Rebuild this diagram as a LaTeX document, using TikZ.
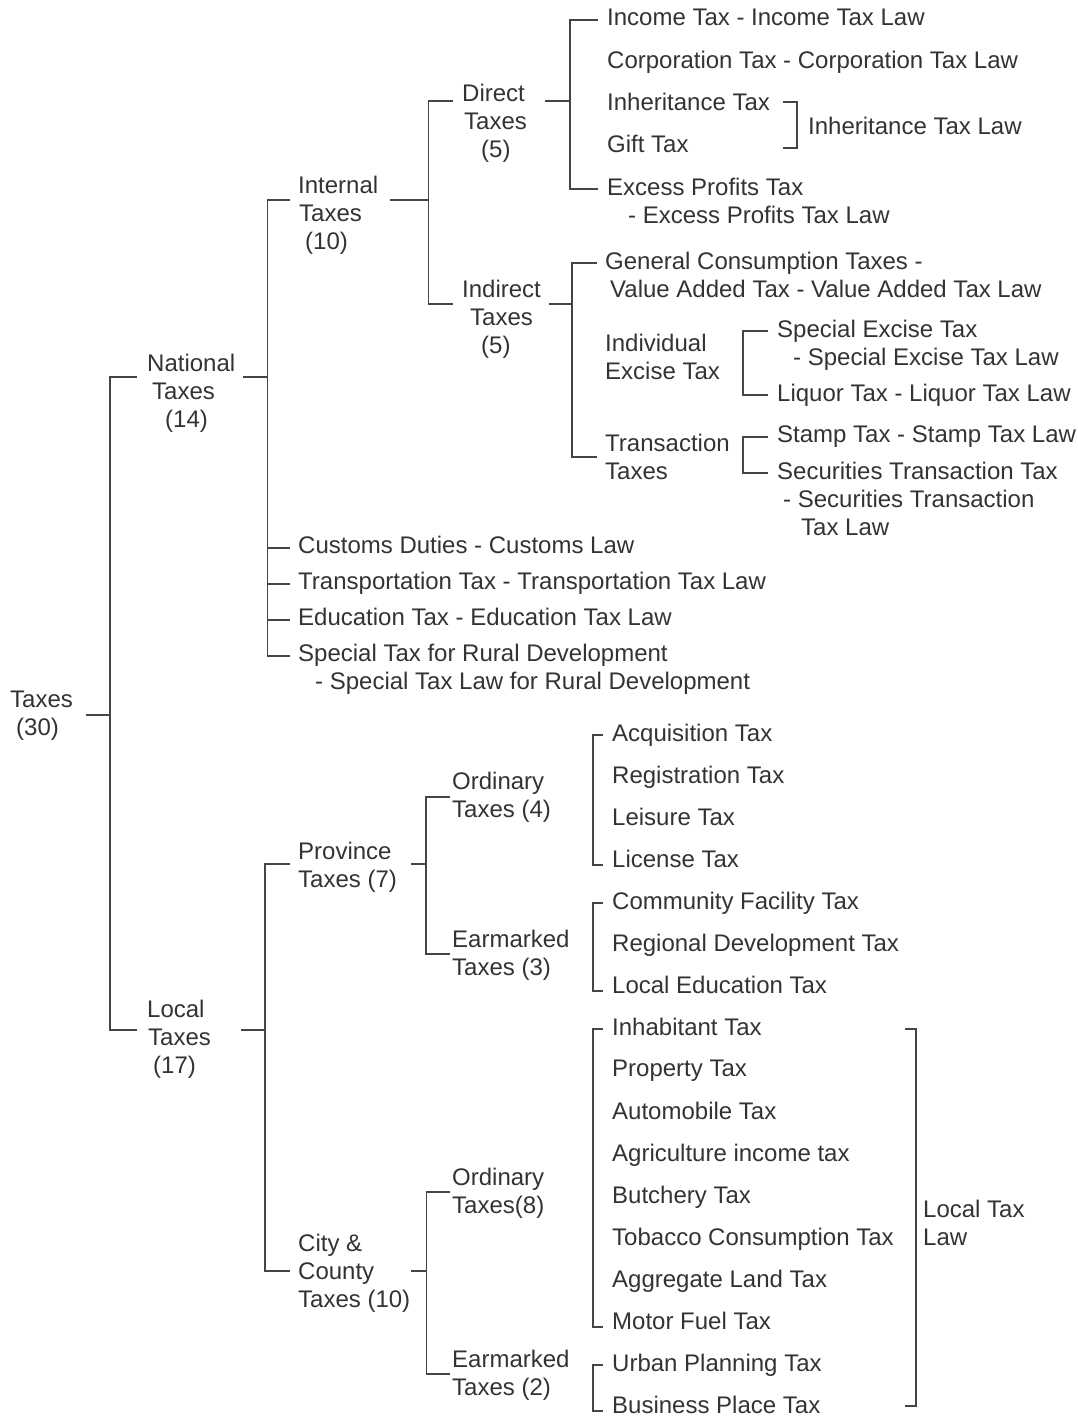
\documentclass[tikz,border=0pt]{standalone}
\usepackage{fontspec}
\setmainfont{Liberation Sans}
\usepackage{xcolor}
\definecolor{ink}{HTML}{333333}
\definecolor{wire}{HTML}{454545}
\tikzset{
    tax-label/.style = {anchor=north west, inner sep=0pt, align=left, text=ink, font=\fontsize{24}{28}\selectfont},
    tax-line/.style = {draw=wire, line width=1.6pt},
}

\begin{document}
\begin{tikzpicture}[x=1pt, y=-1pt]
\useasboundingbox (0,0) rectangle (1078,1419);

% root and national taxes
\node[tax-label] (taxes) at (10,691) {Taxes\\\hspace*{6pt}(30)};
\node[tax-label] (nat) at (147,354) {National\\\hspace*{5pt}Taxes\\\hspace*{18pt}(14)};
\node[tax-label] (int) at (298,176) {Internal\\\hspace*{1pt}Taxes\\\hspace*{7pt}(10)};
\node[tax-label] (dir) at (462,84) {Direct\\\hspace*{2pt}Taxes\\\hspace*{19pt}(5)};
\node[tax-label] (ind) at (462,280) {Indirect\\\hspace*{8pt}Taxes\\\hspace*{19pt}(5)};

\node[tax-label] (inc) at (607,9) {Income Tax - Income Tax Law};
\node[tax-label] (corp) at (607,51) {Corporation Tax - Corporation Tax Law};
\node[tax-label] (inh) at (607,93) {Inheritance Tax};
\node[tax-label] (gift) at (607,135) {Gift Tax};
\node[tax-label] (inhlaw) at (808,117) {Inheritance Tax Law};
\node[tax-label] (exc) at (607,178) {Excess Profits Tax\\\hspace*{21pt}- Excess Profits Tax Law};

\node[tax-label] (gen) at (605,252) {General Consumption Taxes -\\\hspace*{5pt}Value Added Tax - Value Added Tax Law};
\node[tax-label] (indv) at (605,334) {Individual\\Excise Tax};
\node[tax-label] (spe) at (777,320) {Special Excise Tax\\\hspace*{16pt}- Special Excise Tax Law};
\node[tax-label] (liq) at (777,384) {Liquor Tax - Liquor Tax Law};
\node[tax-label] (tra) at (605,434) {Transaction\\Taxes};
\node[tax-label] (sta) at (777,426) {Stamp Tax - Stamp Tax Law};
\node[tax-label] (sec) at (777,462) {Securities Transaction Tax\\\hspace*{6pt}- Securities Transaction\\\hspace*{24pt}Tax Law};

\node[tax-label] (cus) at (298,536) {Customs Duties - Customs Law};
\node[tax-label] (tsp) at (298,572) {Transportation Tax - Transportation Tax Law};
\node[tax-label] (edu) at (298,608) {Education Tax - Education Tax Law};
\node[tax-label] (srd) at (298,644) {Special Tax for Rural Development\\\hspace*{17pt}- Special Tax Law for Rural Development};

% local taxes
\node[tax-label] (loc) at (147,1000) {Local\\\hspace*{1pt}Taxes\\\hspace*{6pt}(17)};
\node[tax-label] (pro) at (298,842) {Province\\Taxes (7)};
\node[tax-label] (cty) at (298,1234) {City \&\\County\\Taxes (10)};

\node[tax-label] (ord1) at (452,772) {Ordinary\\Taxes (4)};
\node[tax-label] (ear1) at (452,930) {Earmarked\\Taxes (3)};
\node[tax-label] (acq) at (612,724) {Acquisition Tax};
\node[tax-label] (reg) at (612,766) {Registration Tax};
\node[tax-label] (lei) at (612,808) {Leisure Tax};
\node[tax-label] (lic) at (612,850) {License Tax};
\node[tax-label] (com) at (612,892) {Community Facility Tax};
\node[tax-label] (rgd) at (612,934) {Regional Development Tax};
\node[tax-label] (led) at (612,976) {Local Education Tax};

\node[tax-label] (ord2) at (452,1168) {Ordinary\\Taxes(8)};
\node[tax-label] (ear2) at (452,1350) {Earmarked\\Taxes (2)};
\node[tax-label] (inh8) at (612,1018) {Inhabitant Tax};
\node[tax-label] (prp) at (612,1060) {Property Tax};
\node[tax-label] (aut) at (612,1102) {Automobile Tax};
\node[tax-label] (agr) at (612,1144) {Agriculture income tax};
\node[tax-label] (but) at (612,1186) {Butchery Tax};
\node[tax-label] (tob) at (612,1228) {Tobacco Consumption Tax};
\node[tax-label] (agg) at (612,1270) {Aggregate Land Tax};
\node[tax-label] (mot) at (612,1312) {Motor Fuel Tax};
\node[tax-label] (urb) at (612,1354) {Urban Planning Tax};
\node[tax-label] (bus) at (612,1396) {Business Place Tax};
\node[tax-label] (ltl) at (923,1200) {Local Tax\\Law};

% brackets
\draw[tax-line] ([xshift=13pt,yshift=-24pt]taxes.north east) -- ++(24,0) coordinate (s-taxes)
    (s-taxes) |- ([xshift=-10pt,yshift=-23pt]nat.north west)
    (s-taxes) |- ([xshift=-10pt,yshift=-30pt]loc.north west);

\draw[tax-line] ([xshift=8pt,yshift=-23pt]nat.north east) -- ++(24,0) coordinate (s-nat)
    (s-nat) |- ([xshift=-8pt,yshift=-24pt]int.north west)
    (s-nat) |- ([xshift=-8pt,yshift=-12pt]cus.north west)
    (s-nat) |- ([xshift=-8pt,yshift=-12pt]tsp.north west)
    (s-nat) |- ([xshift=-8pt,yshift=-12pt]edu.north west)
    (s-nat) |- ([xshift=-8pt,yshift=-12pt]srd.north west);

\draw[tax-line] ([xshift=12pt,yshift=-24pt]int.north east) -- ++(38,0) coordinate (s-int)
    (s-int) |- ([xshift=-9pt,yshift=-17pt]dir.north west)
    (s-int) |- ([xshift=-9pt,yshift=-24pt]ind.north west);

\draw[tax-line] ([xshift=18pt,yshift=-17pt]dir.north east) -- ++(25,0) coordinate (s-dir)
    (s-dir) |- ([xshift=-9pt,yshift=-11pt]inc.north west)
    (s-dir) |- ([xshift=-9pt,yshift=-11pt]exc.north west);
\draw[tax-line] ([xshift=-25pt,yshift=24pt]inhlaw.west) -- ++(14,0) -- ++(0,46) -- ++(-14,0);

\draw[tax-line] ([xshift=8pt,yshift=-24pt]ind.north east) -- ++(23,0) coordinate (s-ind)
    (s-ind) |- ([xshift=-8pt,yshift=-11pt]gen.north west)
    (s-ind) |- ([xshift=-8pt,yshift=-23pt]tra.north west);
\draw[tax-line] ([xshift=-9pt,yshift=-11pt]spe.north west) -- ++(-25,0) |- ([xshift=-9pt,yshift=-11pt]liq.north west);
\draw[tax-line] ([xshift=-9pt,yshift=-11pt]sta.north west) -- ++(-25,0) |- ([xshift=-9pt,yshift=-11pt]sec.north west);

\draw[tax-line] ([xshift=30pt,yshift=-30pt]loc.north east) -- ++(24,0) coordinate (s-loc)
    (s-loc) |- ([xshift=-8pt,yshift=-22pt]pro.north west)
    (s-loc) |- ([xshift=-8pt,yshift=-37pt]cty.north west);

\draw[tax-line] ([xshift=14pt,yshift=-22pt]pro.north east) -- ++(15,0) coordinate (s-pro)
    (s-pro) |- ([xshift=-2pt,yshift=-25pt]ord1.north west)
    (s-pro) |- ([xshift=-2pt,yshift=-24pt]ear1.north west);
\draw[tax-line] ([xshift=-9pt,yshift=-11pt]acq.north west) -- ++(-10,0) |- ([xshift=-9pt,yshift=-15pt]lic.north west);
\draw[tax-line] ([xshift=-9pt,yshift=-11pt]com.north west) -- ++(-10,0) |- ([xshift=-9pt,yshift=-15pt]led.north west);

\draw[tax-line] ([xshift=1pt,yshift=-37pt]cty.north east) -- ++(15,0) coordinate (s-cty)
    (s-cty) |- ([xshift=-2pt,yshift=-24pt]ord2.north west)
    (s-cty) |- ([xshift=-2pt,yshift=-24pt]ear2.north west);
\draw[tax-line] ([xshift=-9pt,yshift=-11pt]inh8.north west) -- ++(-10,0) |- ([xshift=-9pt,yshift=-15pt]mot.north west);
\draw[tax-line] ([xshift=-9pt,yshift=-11pt]urb.north west) -- ++(-10,0) |- ([xshift=-9pt,yshift=-15pt]bus.north west);
\draw[tax-line] ([xshift=-18pt,yshift=194pt]ltl.west) -- ++(11,0) -- ++(0,377) -- ++(-11,0);
\end{tikzpicture}
\end{document}
